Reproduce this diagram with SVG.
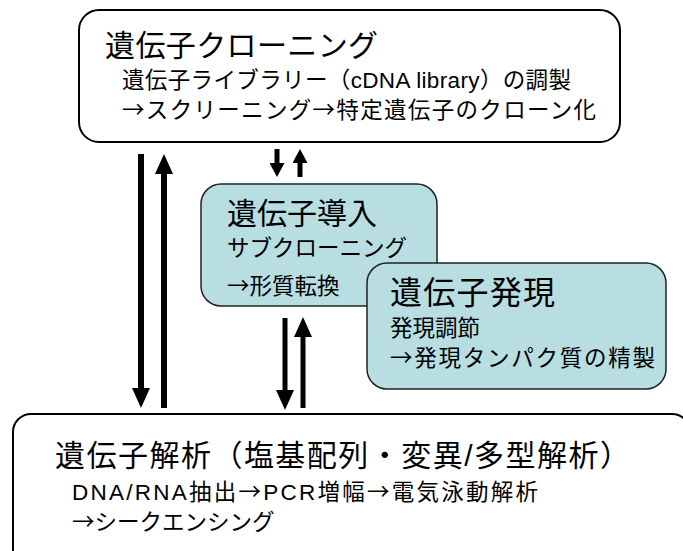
<svg xmlns="http://www.w3.org/2000/svg" width="683" height="551" viewBox="0 0 683 551">
<style>
text{font-family:"Liberation Sans","Noto Sans CJK JP",sans-serif;fill:#000}
tspan.j{font-family:"Noto Sans CJK JP",sans-serif}
.t{font-size:30px}
.s{font-size:22.5px}
.w{fill:#fff;stroke:#000;stroke-width:2}
.b{fill:#B8DEE2;stroke:#222;stroke-width:1.5}
.a{stroke:#000;stroke-width:6;fill:none}
.sa{stroke:#000;stroke-width:5;fill:none}
</style>
<defs>
<marker id="h" markerUnits="userSpaceOnUse" markerWidth="20" markerHeight="18" refX="0" refY="9" orient="auto">
<path d="M0,0 L20,9 L0,18 z" fill="#000"/>
</marker>
<marker id="hs" markerUnits="userSpaceOnUse" markerWidth="14" markerHeight="15" refX="0" refY="7.5" orient="auto">
<path d="M0,0 L14,7.5 L0,15 z" fill="#000"/>
</marker>
</defs>
<rect width="683" height="551" fill="#fff"/>
<g id="cloning">
<rect class="w" x="79" y="10" width="541" height="132" rx="20"/>
<text class="t" x="105" y="56" textLength="273">遺伝子クローニング</text>
<text class="s" x="122" y="88" textLength="449">遺伝子ライブラリー（cDNA library）の調製</text>
<text class="s" x="122" y="118" textLength="474"><tspan class="j">→</tspan>スクリーニング<tspan class="j">→</tspan>特定遺伝子のクローン化</text>
</g>
<g id="analysis">
<rect class="w" x="13" y="414" width="677" height="170" rx="18"/>
<text class="t" x="55" y="466" textLength="575">遺伝子解析（塩基配列・変異/多型解析）</text>
<text class="s" x="72" y="500" textLength="466">DNA/RNA抽出<tspan class="j">→</tspan>PCR増幅<tspan class="j">→</tspan>電気泳動解析</text>
<text class="s" x="72" y="530"><tspan class="j">→</tspan>シークエンシング</text>
</g>
<g id="transfer">
<rect class="b" x="201" y="184" width="236" height="122" rx="20"/>
<text class="t" x="227" y="224">遺伝子導入</text>
<text class="s" x="227" y="256">サブクローニング</text>
<text class="s" x="227" y="294"><tspan class="j">→</tspan>形質転換</text>
</g>
<g id="expression">
<rect class="b" x="367" y="263" width="299" height="126" rx="20"/>
<text x="390" y="304" style="font-size:32px" textLength="165">遺伝子発現</text>
<text class="s" x="390" y="336">発現調節</text>
<text class="s" x="390" y="366" textLength="265"><tspan class="j">→</tspan>発現タンパク質の精製</text>
</g>
<g id="connectors">
<line class="a" x1="141" y1="154" x2="141" y2="388" marker-end="url(#h)"/>
<line class="a" x1="164" y1="408" x2="164" y2="174" marker-end="url(#h)"/>
<line class="sa" x1="277" y1="149" x2="277" y2="163" marker-end="url(#hs)"/>
<line class="sa" x1="300" y1="177" x2="300" y2="163" marker-end="url(#hs)"/>
<line class="sa" x1="285" y1="318" x2="285" y2="390" marker-end="url(#h)"/>
<line class="sa" x1="303" y1="408" x2="303" y2="337" marker-end="url(#h)"/>
</g>
</svg>
